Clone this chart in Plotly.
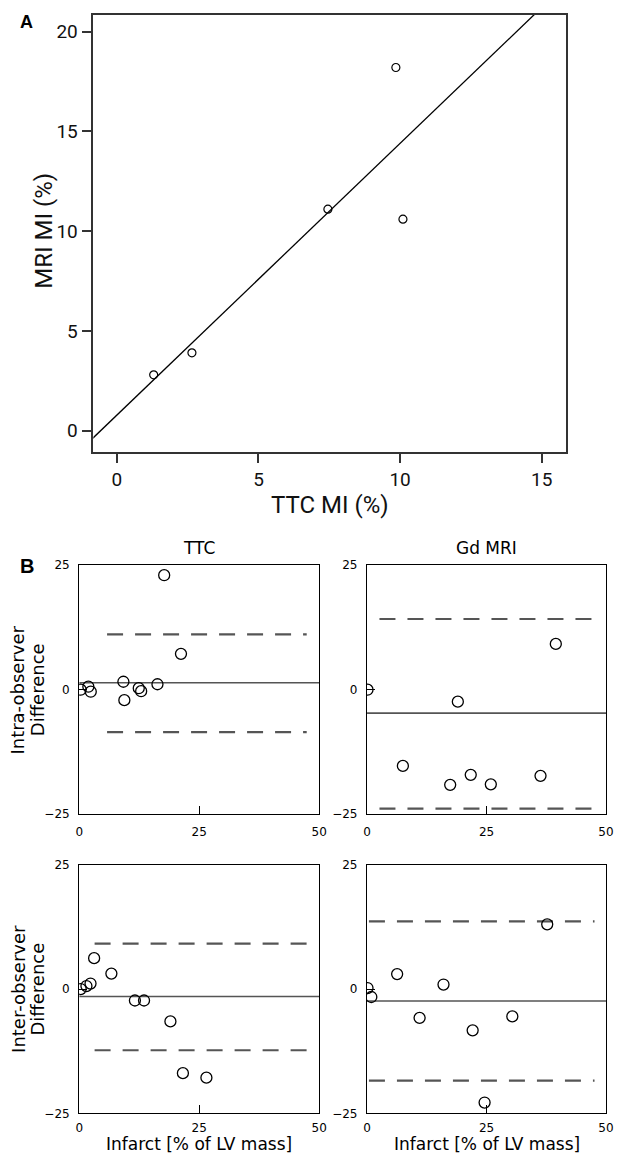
import numpy as np
import plotly.graph_objects as go

# page is 622x1169; the html body keeps an 8px margin, so the figure itself is smaller
PAGE_W, PAGE_H, BODY = 622, 1169, 8
W, H = PAGE_W - 2 * BODY, PAGE_H - 2 * BODY

# ---------------- Panel A data ----------------
ttc_mi = [1.3, 2.65, 7.45, 9.85, 10.1]
mri_mi = [2.8, 3.9, 11.1, 18.2, 10.6]
a_xticks = [0, 5, 10, 15]
a_yticks = [0, 5, 10, 15, 20]
a_xrange = [-0.83, 15.85]
a_yrange = [-1.05, 20.83]

# ---------------- Panel B data ----------------
intra_ttc_x = [0.3, 1.9, 2.4, 9.2, 9.4, 12.4, 12.9, 16.3, 17.7, 21.2]
intra_ttc_y = [0.0, 0.6, -0.4, 1.6, -2.1, 0.3, -0.3, 1.1, 23.0, 7.2]
intra_mri_x = [0.1, 7.5, 17.4, 19.0, 21.7, 25.9, 36.3, 39.5]
intra_mri_y = [0.0, -15.3, -19.1, -2.4, -17.1, -19.0, -17.3, 9.2]
inter_ttc_x = [0.3, 1.5, 2.35, 3.1, 6.7, 11.6, 13.5, 19.0, 21.6, 26.5]
inter_ttc_y = [0.0, 0.6, 1.1, 6.2, 3.1, -2.3, -2.3, -6.5, -16.9, -17.8]
inter_mri_x = [0.1, 0.9, 6.3, 11.0, 16.0, 22.1, 24.6, 30.4, 37.7]
inter_mri_y = [0.2, -1.6, 3.0, -5.8, 0.9, -8.3, -22.8, -5.5, 13.0]

# mean difference and limits of agreement (TTC intra, MRI intra, TTC inter, MRI inter)
bias = [1.4, -4.7, -1.5, -2.4]
upper_loa = [11.1, 14.2, 9.1, 13.6]
lower_loa = [-8.5, -23.9, -12.3, -18.4]
loa_from = [5.8, 2.6, 3.2, 0.4]
loa_to = [47.4, 47.6, 47.4, 47.6]

b_ticks = [-25, 0, 25]
b_xticks = [0, 25, 50]
col_titles = ["TTC", "Gd MRI"]
row_titles = [["Intra-observer", "Difference"], ["Inter-observer", "Difference"]]
x_title_b = "Infarct [% of LV mass]"


def px(x):
    return (x - BODY) / W


def py(y):
    return 1 - (y - BODY) / H


FA = "Liberation Sans Narrow, Roboto, sans-serif"
FB = "DejaVu Sans, sans-serif"

fig = go.Figure()

# ---- Panel A ----
slope, intercept = np.polyfit(ttc_mi, mri_mi, 1)
lx = np.array([-1.0, 17.0])
fig.add_trace(go.Scatter(x=lx, y=slope * lx + intercept, mode="lines",
                         line=dict(color="black", width=1.3),
                         xaxis="x", yaxis="y", showlegend=False, hoverinfo="skip"))
fig.add_trace(go.Scatter(x=ttc_mi, y=mri_mi, mode="markers",
                         marker=dict(symbol="circle-open", size=8, color="black",
                                     line=dict(width=1.2, color="black")),
                         xaxis="x", yaxis="y", showlegend=False))

# ---- Panel B ----
sets = [(intra_ttc_x, intra_ttc_y), (intra_mri_x, intra_mri_y),
        (inter_ttc_x, inter_ttc_y), (inter_mri_x, inter_mri_y)]
for i, (xs, ys) in enumerate(sets):
    xa, ya = f"x{i + 2}", f"y{i + 2}"
    fig.add_trace(go.Scatter(x=[0, 50], y=[bias[i], bias[i]], mode="lines",
                             line=dict(color="#555555", width=1.6),
                             xaxis=xa, yaxis=ya, showlegend=False, hoverinfo="skip"))
    for lim in (upper_loa[i], lower_loa[i]):
        fig.add_trace(go.Scatter(x=[loa_from[i], loa_to[i]], y=[lim, lim], mode="lines",
                                 line=dict(color="#555555", width=2.2, dash="16px,12px"),
                                 xaxis=xa, yaxis=ya, showlegend=False, hoverinfo="skip"))
    fig.add_trace(go.Scatter(x=xs, y=ys, mode="markers",
                             marker=dict(symbol="circle-open", size=11, color="black",
                                         line=dict(width=1.3, color="black")),
                             xaxis=xa, yaxis=ya, showlegend=False))

# ---- axes ----
a_common = dict(showgrid=False, zeroline=False, showline=True, mirror=True,
                linecolor="#333333", linewidth=1.6, ticks="outside", ticklen=10,
                tickwidth=1.6, tickcolor="#333333",
                tickfont=dict(family=FA, size=19, color="#111111"))
layout = dict(
    xaxis=dict(domain=[px(91), px(573)], range=a_xrange, tickvals=a_xticks,
               anchor="y", **a_common),
    yaxis=dict(domain=[py(450), 1.0], range=a_yrange, tickvals=a_yticks,
               anchor="x", **a_common),
)

b_dom_x = [[76.6, 321.4], [370.2, 614.0]]
b_dom_y = [[817, 565], [1120, 868]]
b_common = dict(showgrid=False, zeroline=False, showline=True, mirror=True,
                linecolor="black", linewidth=1.3, ticks="inside", ticklen=8,
                tickwidth=1.2, tickcolor="black",
                tickfont=dict(family=FB, size=12, color="black"))
for i in range(4):
    r, c = divmod(i, 2)
    n = i + 2
    layout[f"xaxis{n}"] = dict(domain=[px(b_dom_x[c][0]), px(b_dom_x[c][1])],
                               range=[0, 50], tickvals=b_xticks, anchor=f"y{n}",
                               ticklabelstandoff=6 if r == 0 else 3, **b_common)
    layout[f"yaxis{n}"] = dict(domain=[py(b_dom_y[r][0]), py(b_dom_y[r][1])],
                               range=[-25, 25], tickvals=b_ticks, anchor=f"x{n}",
                               ticklabelstandoff=6, **b_common)

# clamp domains into [0, 1]
for k, v in layout.items():
    v["domain"] = [max(0.0, min(1.0, d)) for d in v["domain"]]

ann = []
ann.append(dict(text="<b>A</b>", x=px(22.6), y=py(15), font=dict(family="Liberation Sans, Arial", size=18, color="black")))
ann.append(dict(text="TTC MI (%)", x=px(332), y=py(504.5), font=dict(family=FA, size=24, color="#111111")))
ann.append(dict(text="MRI MI (%)", x=px(41), y=py(226), textangle=-90, font=dict(family=FA, size=24, color="#111111")))
ann.append(dict(text="<b>B</b>", x=px(23), y=py(566), font=dict(family="Liberation Sans, Arial", size=20, color="black")))
for c in range(2):
    cx = (b_dom_x[c][0] + b_dom_x[c][1]) / 2
    ann.append(dict(text=col_titles[c], x=px(cx), y=py(548), font=dict(family=FB, size=17, color="black")))
    ann.append(dict(text=x_title_b, x=px(cx), y=py(1151), font=dict(family=FB, size=17, color="black")))
for r in range(2):
    cy = (b_dom_y[r][0] + b_dom_y[r][1]) / 2
    ann.append(dict(text=row_titles[r][0], x=px(14), y=py(cy), textangle=-90, font=dict(family=FB, size=18, color="black")))
    ann.append(dict(text=row_titles[r][1], x=px(34), y=py(cy), textangle=-90, font=dict(family=FB, size=18, color="black")))
for a in ann:
    a.update(xref="paper", yref="paper", showarrow=False, xanchor="center", yanchor="middle")

fig.update_layout(**layout)
fig.update_layout(width=W, height=H, margin=dict(l=0, r=0, t=0, b=0),
                  paper_bgcolor="white", plot_bgcolor="white",
                  annotations=ann, showlegend=False)

fig.write_html("out.html")
